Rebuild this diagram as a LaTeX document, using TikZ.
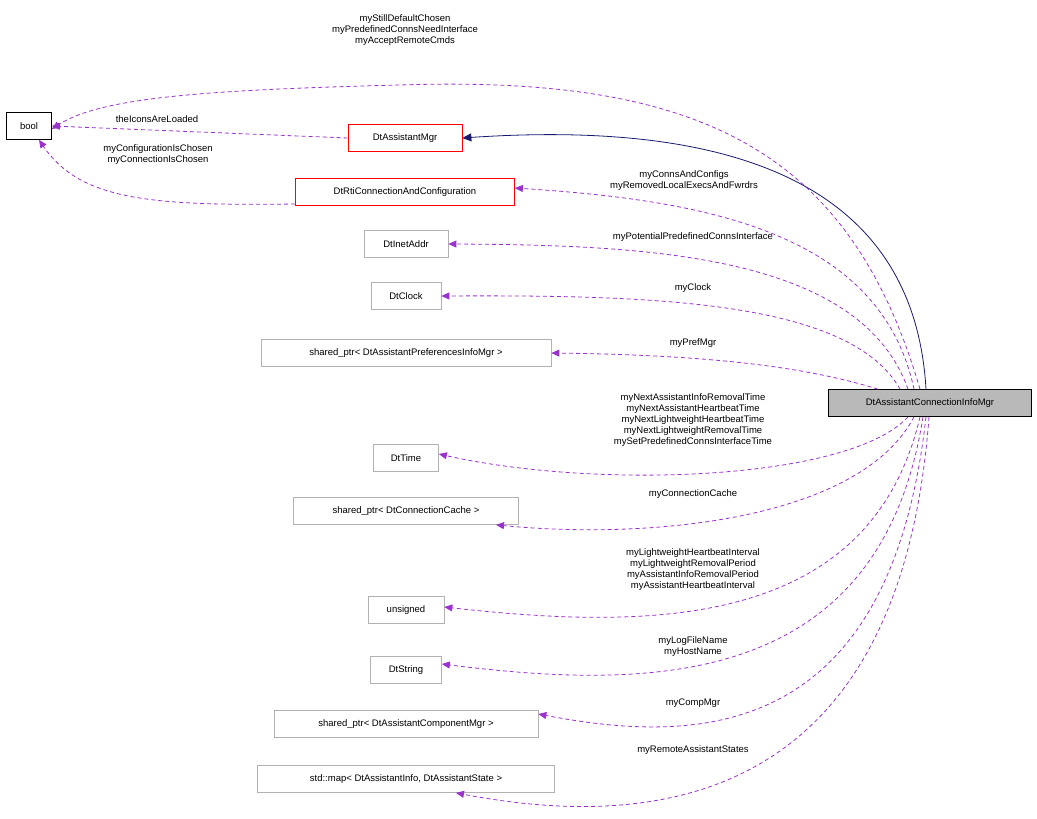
\documentclass[tikz,border=0pt]{standalone}
\usepackage{fontspec}
\setmainfont{Liberation Sans}
\usetikzlibrary{arrows.meta}
\definecolor{edgep}{HTML}{9A32CD}
\definecolor{navy2}{HTML}{191970}
\begin{document}
\begin{tikzpicture}[x=1pt,y=-1pt,font=\fontsize{9.5}{11}\selectfont,
  box/.style={draw=#1,fill=white,inner sep=0pt,minimum height=27pt,line width=0.7pt},
  dep/.style={draw=edgep,dashed,dash pattern=on 4pt off 3pt,line width=0.8pt,-{Triangle[length=8pt,width=7pt]},edgep},
  lab/.style={inner sep=0pt,align=center}]
\useasboundingbox (0,0) rectangle (1037,819);
\node[box=black,minimum width=45pt] (bool) at (29,126) {bool};
\node[box=red,minimum width=114pt] (amgr) at (405,138) {DtAssistantMgr};
\node[box=red,minimum width=219pt] (rti) at (405,192) {DtRtiConnectionAndConfiguration};
\node[box=gray!60,minimum width=84pt] (inet) at (406,244) {DtInetAddr};
\node[box=gray!60,minimum width=70pt] (clock) at (406,296) {DtClock};
\node[box=gray!60,minimum width=290pt] (pref) at (406,353) {shared\_ptr< DtAssistantPreferencesInfoMgr >};
\node[box=gray!60,minimum width=65pt] (time) at (406,458) {DtTime};
\node[box=gray!60,minimum width=225pt] (cache) at (406,511) {shared\_ptr< DtConnectionCache >};
\node[box=gray!60,minimum width=76pt] (uns) at (406,610) {unsigned};
\node[box=gray!60,minimum width=71pt] (str) at (406,670) {DtString};
\node[box=gray!60,minimum width=264pt] (comp) at (406,724) {shared\_ptr< DtAssistantComponentMgr >};
\node[box=gray!60,minimum width=297pt] (map) at (406,779) {std::map< DtAssistantInfo, DtAssistantState >};
\node[box=black,fill=gray!55,minimum width=203pt] (main) at (930,403) {DtAssistantConnectionInfoMgr};

\draw[navy2,line width=0.8pt,-{Triangle[length=9pt,width=8pt]}] ([xshift=-4pt]main.north) .. controls (915,200) and (760,118) .. (amgr.east);
\draw[dep] ([xshift=-10pt]main.north) .. controls (850,150) and (700,75) .. (400,85) .. controls (200,90) and (100,98) .. ([yshift=-3pt]bool.east);
\draw[dep] (amgr.west) -- (bool.east);
\draw[dep] ([yshift=-12pt]rti.west) .. controls (150,206) and (80,200) .. ([xshift=10pt]bool.south);
\draw[dep] ([xshift=-16pt]main.north) .. controls (880,230) and (700,200) .. ([yshift=4pt]rti.east);
\draw[dep] ([xshift=-22pt]main.north) .. controls (860,255) and (650,245) .. (inet.east);
\draw[dep] ([xshift=-30pt]main.north) .. controls (850,300) and (650,295) .. (clock.east);
\draw[dep] ([xshift=-52pt]main.north) .. controls (800,365) and (700,355) .. (pref.east);
\draw[dep] ([xshift=-22pt]main.south) .. controls (850,480) and (600,490) .. ([yshift=4pt]time.east);
\draw[dep] ([xshift=-16pt]main.south) .. controls (860,520) and (650,540) .. ([xshift=90pt]cache.south);
\draw[dep] ([xshift=-10pt]main.south) .. controls (870,630) and (650,630) .. ([yshift=3pt]uns.east);
\draw[dep] ([xshift=-7pt]main.south) .. controls (880,690) and (650,690) .. ([yshift=6pt]str.east);
\draw[dep] ([xshift=-4pt]main.south) .. controls (890,740) and (700,745) .. ([yshift=10pt]comp.east);
\draw[dep] ([xshift=-1pt]main.south) .. controls (900,810) and (650,830) .. ([xshift=50pt]map.south);

\node[lab] (l1) at (405,30) {myStillDefaultChosen\\myPredefinedConnsNeedInterface\\myAcceptRemoteCmds};
\node[lab] (l2) at (157,119) {theIconsAreLoaded};
\node[lab] (l3) at (158,155) {myConfigurationIsChosen\\myConnectionIsChosen};
\node[lab] (l4) at (684,181) {myConnsAndConfigs\\myRemovedLocalExecsAndFwrdrs};
\node[lab] (l5) at (693,237) {myPotentialPredefinedConnsInterface};
\node[lab] (l6) at (693,288) {myClock};
\node[lab] (l7) at (693,343) {myPrefMgr};
\node[lab] (l8) at (693,420) {myNextAssistantInfoRemovalTime\\myNextAssistantHeartbeatTime\\myNextLightweightHeartbeatTime\\myNextLightweightRemovalTime\\mySetPredefinedConnsInterfaceTime};
\node[lab] (l9) at (693,494) {myConnectionCache};
\node[lab] (l10) at (693,570) {myLightweightHeartbeatInterval\\myLightweightRemovalPeriod\\myAssistantInfoRemovalPeriod\\myAssistantHeartbeatInterval};
\node[lab] (l11) at (693,647) {myLogFileName\\myHostName};
\node[lab] (l12) at (693,703) {myCompMgr};
\node[lab] (l13) at (693,750) {myRemoteAssistantStates};
\end{tikzpicture}
\end{document}
